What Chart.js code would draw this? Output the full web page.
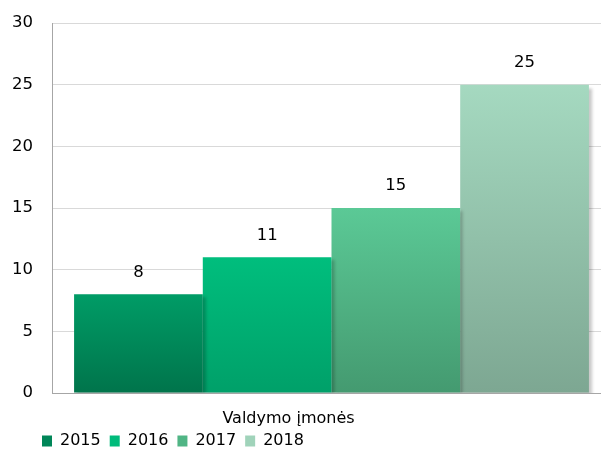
<!DOCTYPE html>
<html>
<head>
<meta charset="utf-8">
<script src="https://cdn.jsdelivr.net/npm/chart.js@4"></script>
<style>
  html, body { margin: 0; padding: 0; background: #fff; overflow: hidden; }
  #wrap { width: 611px; height: 450px; }
</style>
</head>
<body>
<div id="wrap"><canvas id="chart"></canvas></div>
<script>
// chart data
const categories = ["Valdymo įmonės"];
const years = ["2015", "2016", "2017", "2018"];
const values = [8, 11, 15, 25];
const yTicks = [0, 5, 10, 15, 20, 25, 30];

// gradient top / bottom colours per year
const topColors = ["#009c66", "#00be7d", "#5bc996", "#a5d9c0"];
const bottomColors = ["#00744b", "#00a069", "#449a70", "#7da792"];
const legendColors = ["#008658", "#00bb7b", "#50b585", "#a0d3ba"];

const FONT = "'DejaVu Sans', Verdana, sans-serif";

// gradient per bar, running from its top to the baseline
const barGradient = (i) => (ctx) => {
  const chart = ctx.chart;
  if (!chart.chartArea || !chart.scales.y) return topColors[i];
  const y = chart.scales.y;
  const top = y.getPixelForValue(values[i]);
  const bottom = y.getPixelForValue(0);
  const g = chart.ctx.createLinearGradient(0, top, 0, bottom);
  g.addColorStop(0, topColors[i]);
  g.addColorStop(1, bottomColors[i]);
  return g;
};

// shadow under the bars and value labels above them
const barExtras = {
  id: "barExtras",
  afterLayout(chart) {
    // move legend so it sits under the plot, near the bottom edge
    const lg = chart.legend;
    lg.left += 21;
    lg.right += 21;
    lg.top += 9;
    lg.bottom += 9;
    // let the category label draw below the squeezed axis box
    chart.scales.x.bottom = chart.height;
  },
  beforeDatasetsDraw(chart) {
    const c = chart.ctx;
    c.save();
    c.shadowColor = "rgba(0,0,0,0.22)";
    c.shadowBlur = 3;
    c.shadowOffsetX = 3;
    c.shadowOffsetY = 3;
  },
  afterDatasetsDraw(chart) {
    const c = chart.ctx;
    c.restore();
    c.save();
    c.font = "16.5px " + FONT;
    c.fillStyle = "#000";
    c.textAlign = "center";
    c.textBaseline = "middle";
    chart.data.datasets.forEach((ds, i) => {
      chart.getDatasetMeta(i).data.forEach((bar, j) => {
        c.fillText(String(ds.data[j]), bar.x, bar.y - 22);
      });
    });
    c.restore();
  }
};

const datasets = years.map((year, i) => ({
  label: year,
  data: [values[i]],
  backgroundColor: barGradient(i),
  borderWidth: 0,
  barPercentage: 1,
  categoryPercentage: 0.921
}));

new Chart(document.getElementById("chart"), {
  type: "bar",
  data: { labels: categories, datasets: datasets },
  options: {
    responsive: true,
    maintainAspectRatio: false,
    animation: false,
    events: [],
    layout: { padding: { top: 23, left: 12, right: 0, bottom: 0 } },
    plugins: {
      tooltip: { enabled: false },
      legend: {
        position: "bottom",
        align: "start",
        labels: {
          font: { family: FONT, size: 16 },
          color: "#000",
          boxWidth: 10,
          boxHeight: 11,
          padding: 9,
          generateLabels: (chart) =>
            chart.data.datasets.map((ds, i) => ({
              text: ds.label,
              fillStyle: legendColors[i],
              strokeStyle: legendColors[i],
              lineWidth: 0,
              datasetIndex: i
            }))
        }
      }
    },
    scales: {
      x: {
        grid: { display: false, drawTicks: false },
        border: { display: true, color: "#a6a6a6", width: 1 },
        ticks: {
          font: { family: FONT, size: 16 },
          color: "#000",
          padding: 16,
          labelOffset: -43
        },
        afterFit: (axis) => { axis.height = 22; }
      },
      y: {
        min: 0,
        max: 30,
        afterBuildTicks: (axis) => {
          axis.ticks = yTicks.map((v) => ({ value: v }));
        },
        grid: { color: "#d9d9d9", drawTicks: false },
        border: { display: true, color: "#a6a6a6", width: 1 },
        ticks: {
          font: { family: FONT, size: 16.5 },
          color: "#000",
          padding: 19
        },
        afterFit: (axis) => {
          axis.width = 40;
          axis.paddingTop = 0;
          axis.paddingBottom = 0;
        }
      }
    }
  },
  plugins: [barExtras]
});
</script>
</body>
</html>
